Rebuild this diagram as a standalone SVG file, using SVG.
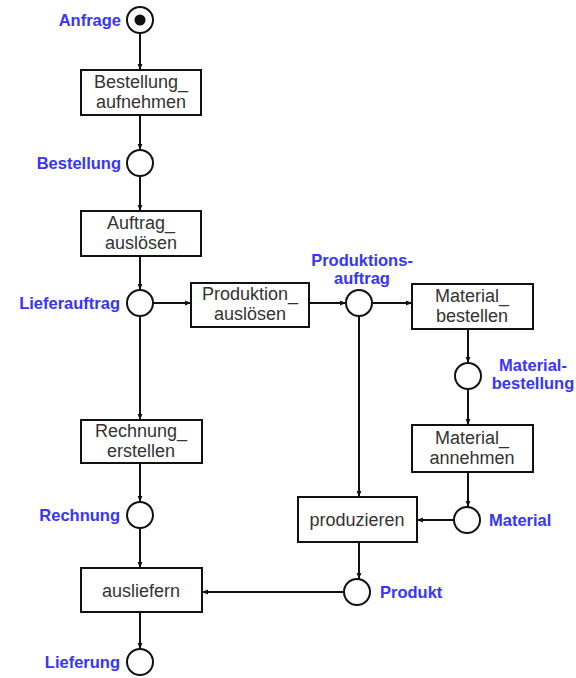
<svg xmlns="http://www.w3.org/2000/svg" width="576" height="678" viewBox="0 0 576 678">
  <style>
    .box { fill: #fff; stroke: #111; stroke-width: 2; }
    .place { fill: #fff; stroke: #111; stroke-width: 2; }
    .t { font-family: "Liberation Sans", Arial, sans-serif; font-size: 18px; fill: #333; text-anchor: middle; }
    .lbl { font-family: "Liberation Sans", Arial, sans-serif; font-size: 16.5px; font-weight: bold; fill: #3535ff; }
    .edge { stroke: #111; stroke-width: 2; fill: none; marker-end: url(#arr); }
  </style>
  <defs>
    <marker id="arr" viewBox="0 0 10 10" refX="10" refY="5" markerWidth="6" markerHeight="6" orient="auto" markerUnits="userSpaceOnUse">
      <path d="M0,1 L10,5 L0,9 z" fill="#111"/>
    </marker>
  </defs>

  <g id="connectors">
    <line class="edge" x1="140" y1="33" x2="140" y2="70"/>
    <line class="edge" x1="140" y1="115" x2="140" y2="150"/>
    <line class="edge" x1="140" y1="176" x2="140" y2="211"/>
    <line class="edge" x1="140" y1="256" x2="140" y2="290"/>
    <line class="edge" x1="153" y1="303" x2="191" y2="303"/>
    <line class="edge" x1="309" y1="303" x2="346" y2="303"/>
    <line class="edge" x1="372" y1="303" x2="412" y2="303"/>
    <line class="edge" x1="468" y1="329" x2="468" y2="363"/>
    <line class="edge" x1="468" y1="389" x2="468" y2="425"/>
    <line class="edge" x1="468" y1="473" x2="468" y2="507"/>
    <line class="edge" x1="454" y1="520" x2="417" y2="520"/>
    <line class="edge" x1="359" y1="316" x2="359" y2="497"/>
    <line class="edge" x1="359" y1="542" x2="359" y2="579"/>
    <line class="edge" x1="344" y1="592" x2="202" y2="592"/>
    <line class="edge" x1="140" y1="316" x2="140" y2="420"/>
    <line class="edge" x1="140" y1="463" x2="140" y2="502"/>
    <line class="edge" x1="140" y1="528" x2="140" y2="568"/>
    <line class="edge" x1="140" y1="612" x2="140" y2="649"/>
  </g>

  <g id="anfrage">
    <circle class="place" cx="140" cy="20" r="13"/>
    <circle cx="140" cy="20" r="5.5" fill="#111"/>
    <text class="lbl" x="121" y="26" text-anchor="end">Anfrage</text>
  </g>
  <g id="bestellung_aufnehmen">
    <rect class="box" x="81" y="70" width="120" height="45"/>
    <text class="t" x="141" y="88">Bestellung_</text>
    <text class="t" x="141" y="108">aufnehmen</text>
  </g>
  <g id="bestellung">
    <circle class="place" cx="140" cy="163" r="13"/>
    <text class="lbl" x="121" y="169" text-anchor="end">Bestellung</text>
  </g>
  <g id="auftrag_ausloesen">
    <rect class="box" x="81" y="211" width="120" height="45"/>
    <text class="t" x="141" y="229">Auftrag_</text>
    <text class="t" x="141" y="249">auslösen</text>
  </g>
  <g id="lieferauftrag">
    <circle class="place" cx="140" cy="303" r="13"/>
    <text class="lbl" x="120" y="309" text-anchor="end">Lieferauftrag</text>
  </g>
  <g id="produktion_ausloesen">
    <rect class="box" x="191" y="283" width="118" height="44"/>
    <text class="t" x="250" y="300">Produktion_</text>
    <text class="t" x="250" y="320">auslösen</text>
  </g>
  <g id="produktionsauftrag">
    <circle class="place" cx="359" cy="303" r="13"/>
    <text class="lbl" x="362" y="266" text-anchor="middle">Produktions-</text>
    <text class="lbl" x="362" y="284" text-anchor="middle">auftrag</text>
  </g>
  <g id="material_bestellen">
    <rect class="box" x="412" y="284" width="121" height="45"/>
    <text class="t" x="472" y="302">Material_</text>
    <text class="t" x="472" y="322">bestellen</text>
  </g>
  <g id="materialbestellung">
    <circle class="place" cx="468" cy="376" r="13"/>
    <text class="lbl" x="533" y="371" text-anchor="middle">Material-</text>
    <text class="lbl" x="533" y="389" text-anchor="middle">bestellung</text>
  </g>
  <g id="material_annehmen">
    <rect class="box" x="412" y="425" width="121" height="47"/>
    <text class="t" x="472" y="444">Material_</text>
    <text class="t" x="472" y="464">annehmen</text>
  </g>
  <g id="material">
    <circle class="place" cx="467" cy="520" r="13"/>
    <text class="lbl" x="489" y="526">Material</text>
  </g>
  <g id="produzieren">
    <rect class="box" x="298" y="497" width="119" height="45"/>
    <text class="t" x="357" y="526">produzieren</text>
  </g>
  <g id="produkt">
    <circle class="place" cx="357" cy="592" r="13"/>
    <text class="lbl" x="380" y="598">Produkt</text>
  </g>
  <g id="rechnung_erstellen">
    <rect class="box" x="81" y="420" width="121" height="43"/>
    <text class="t" x="141" y="437">Rechnung_</text>
    <text class="t" x="141" y="457">erstellen</text>
  </g>
  <g id="rechnung">
    <circle class="place" cx="140" cy="515" r="13"/>
    <text class="lbl" x="120" y="521" text-anchor="end">Rechnung</text>
  </g>
  <g id="ausliefern">
    <rect class="box" x="81" y="568" width="121" height="44"/>
    <text class="t" x="141" y="597">ausliefern</text>
  </g>
  <g id="lieferung">
    <circle class="place" cx="140" cy="662" r="13"/>
    <text class="lbl" x="120" y="668" text-anchor="end">Lieferung</text>
  </g>
</svg>
